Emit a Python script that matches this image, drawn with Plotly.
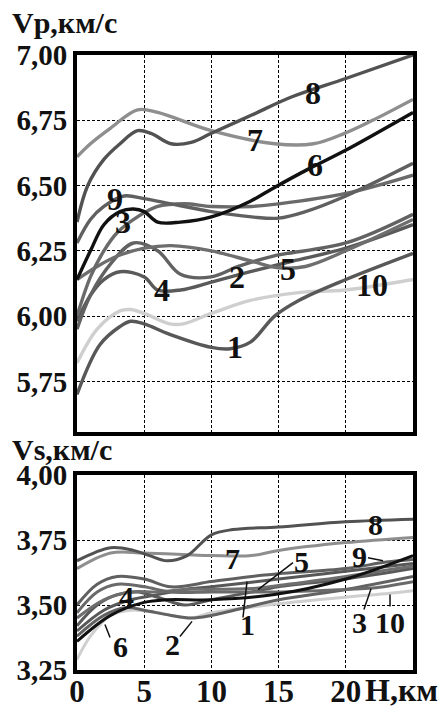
import plotly.graph_objects as go

# ---------------- data ----------------
# Top panel: Vp (km/s) vs depth H (km)
vp_1_h = [0, 1.7, 3.2, 4, 5, 6.9, 10, 11.4, 12.9, 14.7, 16.5, 20, 25]
vp_1_v = [5.70, 5.89, 5.96, 5.98, 5.97, 5.93, 5.88, 5.875, 5.90, 6.00, 6.06, 6.14, 6.24]
vp_2_h = [0, 1, 2.5, 4.2, 6, 7.7, 10, 12, 14.6, 20, 25]
vp_2_v = [5.95, 6.08, 6.20, 6.28, 6.25, 6.16, 6.15, 6.19, 6.23, 6.28, 6.39]
vp_3_h = [0, 1, 2, 3, 4.5, 6, 8, 10, 13, 15, 20, 25]
vp_3_v = [6.00, 6.15, 6.25, 6.32, 6.38, 6.42, 6.43, 6.42, 6.42, 6.43, 6.47, 6.54]
vp_4_h = [0, 1, 2, 3.2, 5, 6, 7.7, 10, 12.9, 16, 20, 25]
vp_4_v = [5.98, 6.08, 6.14, 6.17, 6.15, 6.10, 6.10, 6.13, 6.17, 6.21, 6.26, 6.35]
vp_5_h = [0, 1.5, 3, 5, 7, 10, 13, 15, 17, 20, 25]
vp_5_v = [6.14, 6.19, 6.23, 6.26, 6.27, 6.25, 6.21, 6.185, 6.19, 6.25, 6.37]
vp_6_h = [0, 1, 2, 3.2, 4.2, 5, 6, 7.7, 10, 12.9, 14.6, 17.1, 19.8, 25]
vp_6_v = [6.14, 6.25, 6.35, 6.40, 6.41, 6.40, 6.36, 6.36, 6.38, 6.44, 6.49, 6.56, 6.63, 6.78]
vp_7_h = [0, 1, 2.5, 4.5, 6, 10, 14.7, 17.6, 19.9, 22, 25]
vp_7_v = [6.61, 6.66, 6.72, 6.79, 6.78, 6.71, 6.66, 6.66, 6.70, 6.75, 6.83]
vp_8_h = [0, 0.8, 2, 3.2, 4.5, 5.5, 7, 8.5, 10, 13, 16, 20, 25]
vp_8_v = [6.36, 6.50, 6.60, 6.66, 6.71, 6.70, 6.66, 6.665, 6.70, 6.77, 6.84, 6.91, 7.00]
vp_9_h = [0, 1, 2, 3.5, 5, 7, 10, 13, 15, 17, 20, 25]
vp_9_v = [6.28, 6.37, 6.42, 6.46, 6.45, 6.43, 6.40, 6.38, 6.375, 6.40, 6.46, 6.585]
vp_10_h = [0, 1.5, 3.2, 4, 5, 6.9, 7.9, 10, 12.9, 16.5, 20, 25]
vp_10_v = [5.82, 5.95, 6.02, 6.025, 6.01, 5.97, 5.97, 6.01, 6.06, 6.09, 6.10, 6.14]

# Bottom panel: Vs (km/s) vs depth H (km)
vs_1_h = [0, 2, 4, 6, 8, 10, 12.5, 15, 20, 25]
vs_1_v = [3.40, 3.48, 3.52, 3.54, 3.56, 3.57, 3.585, 3.60, 3.63, 3.66]
vs_2_h = [0, 2, 3.7, 5, 7, 8.5, 10, 15, 20, 25]
vs_2_v = [3.38, 3.46, 3.49, 3.48, 3.46, 3.45, 3.46, 3.52, 3.56, 3.61]
vs_3_h = [0, 1.5, 3, 5, 7, 10, 13, 15, 20, 22, 25]
vs_3_v = [3.47, 3.55, 3.58, 3.57, 3.55, 3.55, 3.55, 3.55, 3.56, 3.565, 3.59]
vs_4_h = [0, 1.5, 3, 4.5, 6, 8, 10, 13, 15, 20, 25]
vs_4_v = [3.42, 3.50, 3.54, 3.55, 3.53, 3.50, 3.52, 3.55, 3.57, 3.60, 3.64]
vs_5_h = [0, 2, 4, 6, 8, 10, 13.5, 15, 20, 25]
vs_5_v = [3.45, 3.52, 3.55, 3.55, 3.56, 3.56, 3.565, 3.575, 3.61, 3.65]
vs_6_h = [0, 2.5, 5, 6.7, 10, 14.7, 20, 25]
vs_6_v = [3.36, 3.46, 3.51, 3.52, 3.52, 3.54, 3.60, 3.69]
vs_7_h = [0, 2.5, 5, 10, 13, 15, 20, 25]
vs_7_v = [3.64, 3.70, 3.70, 3.69, 3.69, 3.71, 3.74, 3.76]
vs_8_h = [0, 2.5, 4.2, 5.4, 6.7, 8.2, 10, 11.6, 15, 20, 25]
vs_8_v = [3.67, 3.72, 3.71, 3.69, 3.67, 3.69, 3.77, 3.79, 3.80, 3.82, 3.83]
vs_9_h = [0, 1.5, 3, 5, 7, 10, 13, 15, 20, 23, 25]
vs_9_v = [3.50, 3.58, 3.61, 3.60, 3.57, 3.59, 3.61, 3.62, 3.64, 3.665, 3.675]
vs_10_h = [0, 1, 2.5, 4, 6, 8.5, 10, 15, 20, 23.3, 25]
vs_10_v = [3.29, 3.38, 3.46, 3.48, 3.47, 3.45, 3.47, 3.505, 3.53, 3.545, 3.555]

x_ticks = [0, 5, 10, 15, 20]
x_ticktext = ["0", "5", "10", "15", "20"]
vp_ticks = [5.75, 6.00, 6.25, 6.50, 6.75, 7.00]
vp_ticktext = ["5,75", "6,00", "6,25", "6,50", "6,75", "7,00"]
vs_ticks = [3.25, 3.50, 3.75, 4.00]
vs_ticktext = ["3,25", "3,50", "3,75", "4,00"]

curve_names = ["1", "2", "3", "4", "5", "6", "7", "8", "9", "10"]
vp_curves = [(vp_1_h, vp_1_v), (vp_2_h, vp_2_v), (vp_3_h, vp_3_v), (vp_4_h, vp_4_v),
             (vp_5_h, vp_5_v), (vp_6_h, vp_6_v), (vp_7_h, vp_7_v), (vp_8_h, vp_8_v),
             (vp_9_h, vp_9_v), (vp_10_h, vp_10_v)]
vs_curves = [(vs_1_h, vs_1_v), (vs_2_h, vs_2_v), (vs_3_h, vs_3_v), (vs_4_h, vs_4_v),
             (vs_5_h, vs_5_v), (vs_6_h, vs_6_v), (vs_7_h, vs_7_v), (vs_8_h, vs_8_v),
             (vs_9_h, vs_9_v), (vs_10_h, vs_10_v)]

# ---------------- styles ----------------
colors = {"1": "#585858", "2": "#626262", "3": "#6a6a6a", "4": "#5a5a5a", "5": "#6e6e6e",
          "6": "#111111", "7": "#8e8e8e", "8": "#525252", "9": "#606060", "10": "#cfcfcf"}
draw_order = ["10", "1", "4", "2", "5", "3", "9", "7", "8", "6"]
FONT = "Liberation Serif, Times New Roman, serif"

fig = go.Figure()
for name in draw_order:
    i = curve_names.index(name)
    h, v = vp_curves[i]
    fig.add_trace(go.Scatter(x=h, y=v, mode="lines", xaxis="x", yaxis="y",
                             line=dict(color=colors[name], width=3.4, shape="spline", smoothing=1.0),
                             showlegend=False, hoverinfo="skip"))
for name in draw_order:
    i = curve_names.index(name)
    h, v = vs_curves[i]
    fig.add_trace(go.Scatter(x=h, y=v, mode="lines", xaxis="x2", yaxis="y2",
                             line=dict(color=colors[name], width=3.0, shape="spline", smoothing=1.0),
                             showlegend=False, hoverinfo="skip"))

W, H = 440, 711
xdom = [77 / W, 413 / W]
ydom_top = [1 - 432 / H, 1 - 55 / H]
ydom_bot = [1 - 670 / H, 1 - 475 / H]

common_axis = dict(showline=True, mirror=True, linewidth=4, linecolor="black",
                   showgrid=True, gridcolor="black", gridwidth=1, griddash="3px,2px",
                   zeroline=False, ticks="", fixedrange=True, automargin=False)

fig.update_layout(
    width=W, height=H, margin=dict(l=0, r=0, t=0, b=0, autoexpand=False),
    paper_bgcolor="white", plot_bgcolor="white", showlegend=False,
    xaxis=dict(domain=xdom, range=[0, 25], anchor="y", tickvals=x_ticks,
               showticklabels=False, **common_axis),
    yaxis=dict(domain=ydom_top, range=[5.556, 7.0], anchor="x", tickvals=vp_ticks,
               ticktext=vp_ticktext, ticklabelstandoff=0,
               tickfont=dict(family=FONT, size=29, color="#111", weight="bold"), **common_axis),
    xaxis2=dict(domain=xdom, range=[0, 25], anchor="y2", tickvals=x_ticks, ticktext=x_ticktext,
                ticklabelstandoff=-9,
                tickfont=dict(family=FONT, size=31, color="#111", weight="bold"), **common_axis),
    yaxis2=dict(domain=ydom_bot, range=[3.25, 4.0], anchor="x2", tickvals=vs_ticks,
                ticktext=vs_ticktext, ticklabelstandoff=0,
                tickfont=dict(family=FONT, size=29, color="#111", weight="bold"), **common_axis),
)

# curve labels (data coordinates)
top_labels = [("8", 17.56, 6.854), ("7", 13.24, 6.674), ("6", 17.7, 6.58), ("9", 2.83, 6.45),
              ("3", 3.42, 6.36), ("4", 6.32, 6.10), ("2", 11.9, 6.15), ("5", 15.7, 6.18),
              ("10", 21.95, 6.12), ("1", 11.76, 5.88)]
bot_labels = [("8", 22.2, 3.81), ("7", 11.6, 3.68), ("9", 21.05, 3.686), ("5", 16.7, 3.667),
              ("4", 3.65, 3.533), ("1", 12.65, 3.426), ("3", 21.05, 3.434), ("10", 23.3, 3.434),
              ("6", 3.2, 3.34), ("2", 7.14, 3.35)]
annotations = []
for t, x, y in top_labels:
    annotations.append(dict(x=x, y=y, xref="x", yref="y", text=t, showarrow=False,
                            font=dict(family=FONT, size=32, color="#111", weight="bold")))
for t, x, y in bot_labels:
    annotations.append(dict(x=x, y=y, xref="x2", yref="y2", text=t, showarrow=False,
                            font=dict(family=FONT, size=30, color="#111", weight="bold")))
annotations += [
    dict(x=10 / W, y=1 - 22 / H, xref="paper", yref="paper", text="Vp,км/с", showarrow=False,
         xanchor="left", yanchor="middle", font=dict(family=FONT, size=30, color="#111", weight="bold")),
    dict(x=10 / W, y=1 - 449 / H, xref="paper", yref="paper", text="Vs,км/с", showarrow=False,
         xanchor="left", yanchor="middle", font=dict(family=FONT, size=30, color="#111", weight="bold")),
    dict(x=1.0, y=1 - 690 / H, xref="paper", yref="paper", text="H,км", showarrow=False,
         xanchor="right", yanchor="middle", font=dict(family=FONT, size=32, color="#111", weight="bold")),
]
fig.update_layout(annotations=annotations)

# label leader lines (bottom panel)
leaders = [((2.46, 3.375), (2.08, 3.425)), ((7.66, 3.379), (8.56, 3.437)),
           ((12.35, 3.452), (12.65, 3.590)), ((13.47, 3.559), (16.07, 3.663)),
           ((21.65, 3.682), (22.77, 3.670)), ((21.35, 3.483), (21.88, 3.563)),
           ((23.29, 3.494), (23.29, 3.540))]
shapes = []
for (x0, y0), (x1, y1) in leaders:
    shapes.append(dict(type="line", xref="x2", yref="y2", x0=x0, y0=y0, x1=x1, y1=y1,
                       line=dict(color="#111", width=1.5)))
fig.update_layout(shapes=shapes)

fig.write_html("out.html", config={"displayModeBar": False},
               post_script="document.body.style.margin='0';document.body.style.overflow='hidden';")
